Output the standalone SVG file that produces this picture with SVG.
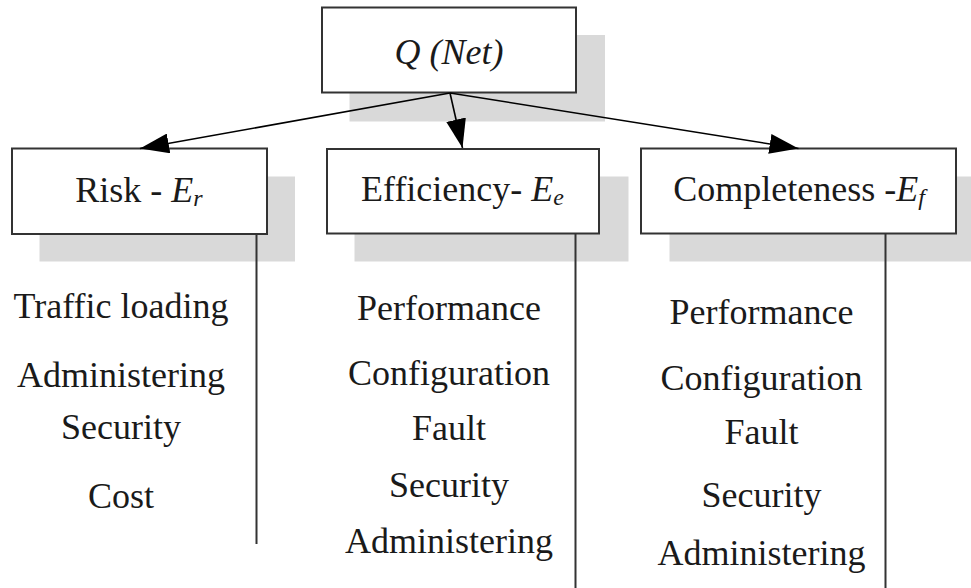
<svg xmlns="http://www.w3.org/2000/svg" width="971" height="588" viewBox="0 0 971 588">
  <style>
    .shadow { fill: #d9d9d9; stroke: none; }
    .box { fill: #ffffff; stroke: #333333; stroke-width: 2; }
    .lbl { font-family: "Liberation Serif", "Times New Roman", serif; font-size: 36px; fill: #1a1a1a; text-anchor: middle; }
    .it { font-style: italic; }
    .sub { font-size: 24px; font-style: italic; }
    .arrow { stroke: #000000; stroke-width: 1.6; fill: none; marker-end: url(#head); }
    .stem { stroke: #333333; stroke-width: 2; fill: none; }
  </style>
  <defs>
    <marker id="head" markerUnits="userSpaceOnUse" markerWidth="30" markerHeight="20" refX="29" refY="10" orient="auto">
      <path d="M0,0 L29,10 L0,20 Z" fill="#000000"/>
    </marker>
  </defs>

  <rect width="971" height="588" fill="#ffffff"/>

  <!-- root -->
  <g id="q-net">
    <rect class="shadow" x="349.5" y="35" width="255.5" height="86.5"/>
    <rect class="box" x="322" y="7.5" width="254" height="85"/>
    <text class="lbl it" x="449" y="63.5">Q (Net)</text>
  </g>

  <!-- criteria -->
  <g id="risk">
    <rect class="shadow" x="39.5" y="176.5" width="255.5" height="85"/>
    <rect class="box" x="12" y="148.5" width="255" height="85.5"/>
    <text class="lbl" x="139" y="201.5">Risk - <tspan class="it">E</tspan><tspan class="sub" dy="4">r</tspan></text>
    <g class="lbl">
      <text x="121" y="317.5">Traffic loading</text>
      <text x="121" y="386.5">Administering</text>
      <text x="121" y="438.5">Security</text>
      <text x="121" y="507.5">Cost</text>
    </g>
  </g>

  <g id="efficiency">
    <rect class="shadow" x="354.5" y="176.5" width="274" height="85"/>
    <rect class="box" x="327" y="149" width="272" height="84.5"/>
    <text class="lbl" x="462.5" y="200.5">Efficiency- <tspan class="it">E</tspan><tspan class="sub" dy="4">e</tspan></text>
    <g class="lbl">
      <text x="449" y="319.5">Performance</text>
      <text x="449" y="385">Configuration</text>
      <text x="449" y="439.5">Fault</text>
      <text x="449" y="496.5">Security</text>
      <text x="449" y="552.5">Administering</text>
    </g>
  </g>

  <g id="completeness">
    <rect class="shadow" x="669.5" y="176.5" width="310" height="85"/>
    <rect class="box" x="641" y="148.5" width="315" height="85"/>
    <text class="lbl" x="799" y="200.5">Completeness -<tspan class="it">E</tspan><tspan class="sub" dy="4">f</tspan></text>
    <g class="lbl">
      <text x="761.5" y="323.5">Performance</text>
      <text x="761.5" y="390">Configuration</text>
      <text x="761.5" y="444">Fault</text>
      <text x="761.5" y="506.5">Security</text>
      <text x="761.5" y="565">Administering</text>
    </g>
  </g>

  <!-- connectors -->
  <g id="connectors">
    <line class="arrow" x1="450" y1="93" x2="140" y2="148.5"/>
    <line class="arrow" x1="450" y1="93" x2="462.5" y2="148"/>
    <line class="arrow" x1="450" y1="93" x2="798.5" y2="148.5"/>
    <line class="stem" x1="256.5" y1="234" x2="256.5" y2="544"/>
    <line class="stem" x1="575.5" y1="233.5" x2="575.5" y2="588"/>
    <line class="stem" x1="885.5" y1="233.5" x2="885.5" y2="588"/>
  </g>
</svg>
